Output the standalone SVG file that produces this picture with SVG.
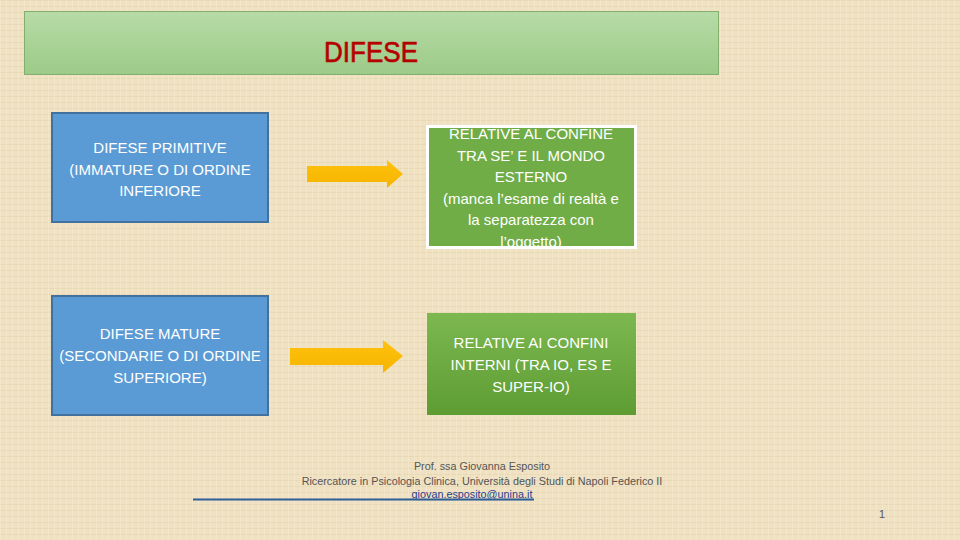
<svg xmlns="http://www.w3.org/2000/svg" width="960" height="540" viewBox="0 0 960 540">
<defs>
<style>
.t{font-family:"Liberation Sans",Arial,sans-serif;font-size:15px;fill:#ffffff;text-anchor:middle}
.f{font-family:"Liberation Sans",Arial,sans-serif;font-size:10.8px;fill:#555555;text-anchor:middle}
.arrow{fill:#ffc000}
</style>
<linearGradient id="tg" x1="0" y1="0" x2="0" y2="1"><stop offset="0" stop-color="#b7dba7"/><stop offset="1" stop-color="#9ccb88"/></linearGradient>
<linearGradient id="gg" x1="0" y1="0" x2="0" y2="1"><stop offset="0" stop-color="#7cb84f"/><stop offset="1" stop-color="#5e9c34"/></linearGradient>
<linearGradient id="ag" x1="0" y1="0" x2="0" y2="1"><stop offset="0" stop-color="#ffc20e"/><stop offset="1" stop-color="#f5b400"/></linearGradient>
<pattern id="bgp" width="6" height="6" patternUnits="userSpaceOnUse"><rect width="6" height="6" fill="#efe1c1"/><rect width="6" height="1" fill="#e6d5ae" opacity="0.7"/><rect width="1" height="6" fill="#f5eace" opacity="0.7"/></pattern>
<clipPath id="c1"><rect x="429" y="128" width="205" height="118"/></clipPath>
</defs>
<rect width="960" height="540" fill="url(#bgp)"/>
<g id="title">
<rect x="24.5" y="11.5" width="694" height="63" fill="url(#tg)" stroke="#82b06c" stroke-width="1"/>
<text x="371" y="62" font-family="Liberation Sans,Arial,sans-serif" font-size="29" fill="#b40000" stroke="#b40000" stroke-width="0.6" text-anchor="middle" textLength="94" lengthAdjust="spacingAndGlyphs">DIFESE</text>
</g>
<g id="primitive">
<rect x="52" y="113" width="216" height="109" fill="#5b9bd5" stroke="#41719c" stroke-width="2"/>
<text class="t" x="160" y="153">DIFESE PRIMITIVE</text>
<text class="t" x="160" y="175">(IMMATURE O DI ORDINE</text>
<text class="t" x="160" y="196">INFERIORE</text>
</g>
<g id="mature">
<rect x="52" y="296" width="216" height="119" fill="#5b9bd5" stroke="#41719c" stroke-width="2"/>
<text class="t" x="160" y="339">DIFESE MATURE</text>
<text class="t" x="160" y="361">(SECONDARIE O DI ORDINE</text>
<text class="t" x="160" y="383">SUPERIORE)</text>
</g>
<g id="confine-esterno">
<rect x="427.5" y="126.5" width="208" height="121" fill="#70ad47" stroke="#ffffff" stroke-width="3"/>
<g clip-path="url(#c1)">
<text class="t" x="531" y="139">RELATIVE AL CONFINE</text>
<text class="t" x="531" y="161">TRA SE’ E IL MONDO</text>
<text class="t" x="531" y="182">ESTERNO</text>
<text class="t" x="531" y="204">(manca l’esame di realtà e</text>
<text class="t" x="531" y="225">la separatezza con</text>
<text class="t" x="531" y="247">l’oggetto)</text>
</g>
</g>
<g id="confini-interni">
<rect x="427" y="313" width="209" height="102" fill="url(#gg)"/>
<text class="t" x="531" y="348">RELATIVE AI CONFINI</text>
<text class="t" x="531" y="370">INTERNI (TRA IO, ES E</text>
<text class="t" x="531" y="392">SUPER-IO)</text>
</g>
<g id="connectors">
<polygon fill="url(#ag)" points="307,166 387,166 387,160 403,174 387,188 387,182 307,182"/>
<polygon fill="url(#ag)" points="290,348 383,348 383,340 403,356 383,373 383,365 290,365"/>
</g>
<g id="footer">
<text class="f" x="482" y="470">Prof. ssa Giovanna Esposito</text>
<text class="f" x="482" y="485">Ricercatore in Psicologia Clinica, Università degli Studi di Napoli Federico II</text>
<text class="f" x="472" y="498" text-decoration="underline" style="fill:#1f3f8f">giovan.esposito@unina.it</text>
<line x1="193" y1="499.5" x2="534" y2="499.5" stroke="#2e5f99" stroke-width="2"/>
<text class="f" x="882" y="518">1</text>
</g>
</svg>
